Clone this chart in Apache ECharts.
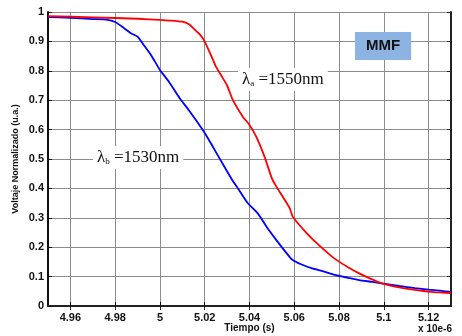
<!DOCTYPE html>
<html>
<head>
<meta charset="utf-8">
<script src="https://cdn.jsdelivr.net/npm/echarts@6/dist/echarts.min.js"></script>
<style>
  html, body { margin: 0; padding: 0; background: #fff; }
  #chart { width: 462px; height: 336px; }
</style>
</head>
<body>
<div id="chart"></div>
<script>
// time axis (x 10e-6 s)
const xTicks = [4.96, 4.98, 5.00, 5.02, 5.04, 5.06, 5.08, 5.10, 5.12];
const xTickLabels = ['4.96', '4.98', '5', '5.02', '5.04', '5.06', '5.08', '5.1', '5.12'];
const yTickLabels = ['0', '0.1', '0.2', '0.3', '0.4', '0.5', '0.6', '0.7', '0.8', '0.9', '1'];

// lambda_b = 1530nm (blue)
const blueTime = [4.950, 4.960, 4.970, 4.976, 4.980, 4.984, 4.987, 4.990, 4.993, 4.996, 5.000, 5.004, 5.009,
  5.013, 5.019, 5.023, 5.027, 5.032, 5.035, 5.039, 5.0437, 5.048, 5.052, 5.056, 5.059, 5.063, 5.068,
  5.073, 5.078, 5.084, 5.089, 5.095, 5.100, 5.107, 5.114, 5.120, 5.125, 5.130];
const blueVolt = [0.983, 0.980, 0.976, 0.974, 0.966, 0.945, 0.928, 0.916, 0.885, 0.854, 0.803, 0.763, 0.705,
  0.665, 0.600, 0.550, 0.497, 0.432, 0.398, 0.352, 0.315, 0.265, 0.224, 0.185, 0.158, 0.142, 0.128,
  0.118, 0.106, 0.096, 0.088, 0.082, 0.076, 0.068, 0.061, 0.056, 0.052, 0.048];

// lambda_a = 1550nm (red)
const redTime = [4.950, 4.970, 4.990, 5.000, 5.005, 5.010, 5.013, 5.015, 5.018, 5.020, 5.0237, 5.025, 5.028,
  5.030, 5.0326, 5.037, 5.040, 5.043, 5.0467, 5.050, 5.052, 5.055, 5.058, 5.0593, 5.062, 5.065, 5.068,
  5.071, 5.075, 5.079, 5.084, 5.089, 5.094, 5.099, 5.105, 5.110, 5.115, 5.120, 5.125, 5.130];
const redVolt = [0.986, 0.982, 0.977, 0.973, 0.971, 0.967, 0.958, 0.944, 0.922, 0.899, 0.837, 0.814, 0.776,
  0.750, 0.700, 0.644, 0.616, 0.576, 0.508, 0.434, 0.406, 0.370, 0.332, 0.304, 0.278, 0.252, 0.228,
  0.207, 0.180, 0.156, 0.132, 0.111, 0.093, 0.077, 0.066, 0.059, 0.054, 0.049, 0.046, 0.044];

const chart = echarts.init(document.getElementById('chart'));
const gridColor = '#8c8c8c';
const labelFont = { color: '#111', fontFamily: 'Liberation Sans', fontWeight: 'bold', fontSize: 11 };

chart.setOption({
  animation: false,
  backgroundColor: '#fff',
  grid: { left: 48, right: 11, top: 12, bottom: 30, outerBoundsMode: 'none' },
  xAxis: [{
    type: 'value', min: 4.95, max: 5.13,
    name: 'Tiempo (s)', nameLocation: 'middle', nameGap: 17, nameMoveOverlap: false,
    nameTextStyle: { color: '#111', fontFamily: 'Liberation Sans', fontWeight: 'bold', fontSize: 10 },
    axisLine: { lineStyle: { color: '#111', width: 2 } },
    axisTick: { inside: true, length: 4, customValues: xTicks, lineStyle: { color: '#111' } },
    axisLabel: Object.assign({ margin: 6, customValues: xTicks,
      formatter: v => xTickLabels[xTicks.findIndex(t => Math.abs(t - v) < 1e-6)] }, labelFont),
    splitLine: { show: true, lineStyle: { color: gridColor, width: 1 } }
  }, {
    type: 'value', min: 4.95, max: 5.13, position: 'top',
    axisLine: { show: true, lineStyle: { color: '#222', width: 2 } },
    axisTick: { inside: true, length: 4, customValues: xTicks, lineStyle: { color: '#222' } },
    axisLabel: { show: false }, splitLine: { show: false }
  }],
  yAxis: [{
    type: 'value', min: 0, max: 1, interval: 0.1,
    name: 'Voltaje Normalizado (u.a.)', nameLocation: 'middle', nameGap: 28, nameMoveOverlap: false,
    nameTextStyle: { color: '#111', fontFamily: 'Liberation Sans', fontWeight: 'bold', fontSize: 9 },
    axisLine: { show: true, lineStyle: { color: '#111', width: 2 } },
    axisTick: { show: true, inside: true, length: 4, lineStyle: { color: '#111' } },
    axisLabel: Object.assign({ margin: 4, formatter: v => yTickLabels[Math.round(v * 10)] }, labelFont),
    splitLine: { show: true, lineStyle: { color: gridColor, width: 1 } }
  }, {
    type: 'value', min: 0, max: 1, interval: 0.1, position: 'right',
    axisLine: { show: true, lineStyle: { color: '#222', width: 2 } },
    axisTick: { show: true, inside: true, length: 4, lineStyle: { color: '#222' } },
    axisLabel: { show: false }, splitLine: { show: false }
  }],
  series: [{
    name: '1530nm', type: 'line', showSymbol: false, smooth: 0.2,
    data: blueTime.map((t, i) => [t, blueVolt[i]]),
    lineStyle: { color: '#0000ff', width: 1.8 }, z: 3
  }, {
    name: '1550nm', type: 'line', showSymbol: false, smooth: 0.2,
    data: redTime.map((t, i) => [t, redVolt[i]]),
    lineStyle: { color: '#ff0000', width: 1.8 }, z: 4
  }],
  graphic: [{
    type: 'text', left: 238, top: 68, z: 10,
    style: {
      text: 'λ{s|a} =1550nm', fill: '#111', backgroundColor: '#fff', padding: [3, 4, 3, 4],
      font: '17px "Liberation Serif"',
      rich: { s: { fontSize: 9, fontFamily: 'Liberation Serif', verticalAlign: 'bottom', padding: [8, 0, 0, 0] } }
    }
  }, {
    type: 'text', left: 93, top: 146, z: 10,
    style: {
      text: 'λ{s|b} =1530nm', fill: '#111', backgroundColor: '#fff', padding: [3, 4, 3, 4],
      font: '17px "Liberation Serif"',
      rich: { s: { fontSize: 9, fontFamily: 'Liberation Serif', verticalAlign: 'bottom', padding: [8, 0, 0, 0] } }
    }
  }, {
    type: 'text', left: 355, top: 32, z: 10,
    style: {
      text: 'MMF', fill: '#111', backgroundColor: '#8db3e2', padding: [6, 11, 6, 11], lineHeight: 16,
      font: 'bold 15px "Liberation Sans"'
    }
  }, {
    type: 'text', right: 10, top: 324, z: 10,
    style: { text: 'x 10e-6', fill: '#111', font: 'bold 10px "Liberation Sans"' }
  }]
});
</script>
</body>
</html>
